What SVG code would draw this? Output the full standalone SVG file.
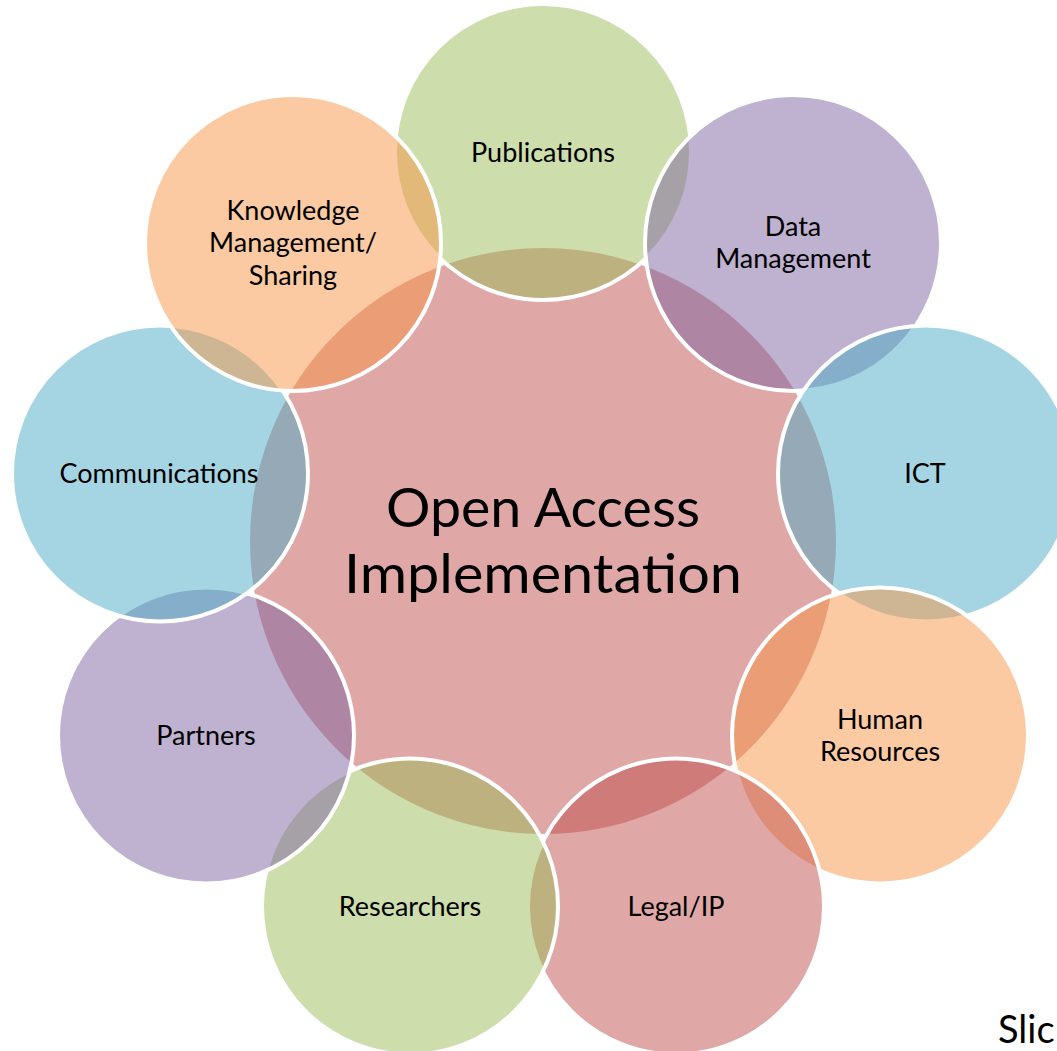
<svg xmlns="http://www.w3.org/2000/svg" width="1057" height="1051" viewBox="0 0 1057 1051">
  <style>
    .c { stroke: #ffffff; stroke-width: 4; fill-opacity: 0.5; }
    .green { fill: #9BBB59; }
    .purple { fill: #8064A2; }
    .aqua { fill: #4BACC6; }
    .orange { fill: #F79646; }
    .red { fill: #C0504D; }
    .lbl { font-family: Lato, "Liberation Sans", sans-serif; font-size: 27px; fill: #000000; text-anchor: middle; }
    .title { font-family: Lato, "Liberation Sans", sans-serif; font-size: 54px; fill: #000000; text-anchor: middle; }
    .slide { font-family: Lato, "Liberation Sans", sans-serif; font-size: 38px; fill: #000000; }
  </style>
  <rect x="0" y="0" width="1057" height="1051" fill="#ffffff"/>
  <g id="connectors"/>
  <g id="node-center">
    <circle class="c red" cx="543" cy="541" r="295"/>
    <text class="title" x="543" y="527" textLength="314" lengthAdjust="spacingAndGlyphs">Open Access</text>
    <text class="title" x="543" y="593" textLength="398" lengthAdjust="spacingAndGlyphs">Implementation</text>
  </g>
  <g id="node-publications">
    <circle class="c green" cx="543" cy="152" r="148"/>
    <text class="lbl" x="543" y="162">Publications</text>
  </g>
  <g id="node-data-management">
    <circle class="c purple" cx="793" cy="243" r="148"/>
    <text class="lbl" x="793" y="236">Data</text>
    <text class="lbl" x="793" y="268">Management</text>
  </g>
  <g id="node-ict">
    <circle class="c aqua" cx="926" cy="473.5" r="148"/>
    <text class="lbl" x="925" y="483">ICT</text>
  </g>
  <g id="node-human-resources">
    <circle class="c orange" cx="880" cy="735.5" r="148"/>
    <text class="lbl" x="880" y="729">Human</text>
    <text class="lbl" x="880" y="761">Resources</text>
  </g>
  <g id="node-legal-ip">
    <circle class="c red" cx="676" cy="906.5" r="148"/>
    <text class="lbl" x="676" y="916">Legal/IP</text>
  </g>
  <g id="node-researchers">
    <circle class="c green" cx="410" cy="906.5" r="148"/>
    <text class="lbl" x="410" y="916">Researchers</text>
  </g>
  <g id="node-partners">
    <circle class="c purple" cx="206" cy="735.5" r="148"/>
    <text class="lbl" x="206" y="745">Partners</text>
  </g>
  <g id="node-communications">
    <circle class="c aqua" cx="160" cy="473.5" r="148"/>
    <text class="lbl" x="159" y="483">Communications</text>
  </g>
  <g id="node-knowledge-management">
    <circle class="c orange" cx="293" cy="243" r="148"/>
    <text class="lbl" x="293" y="220">Knowledge</text>
    <text class="lbl" x="293" y="252">Management/</text>
    <text class="lbl" x="293" y="285">Sharing</text>
  </g>
  <text class="slide" x="998" y="1043">Slic</text>
</svg>
